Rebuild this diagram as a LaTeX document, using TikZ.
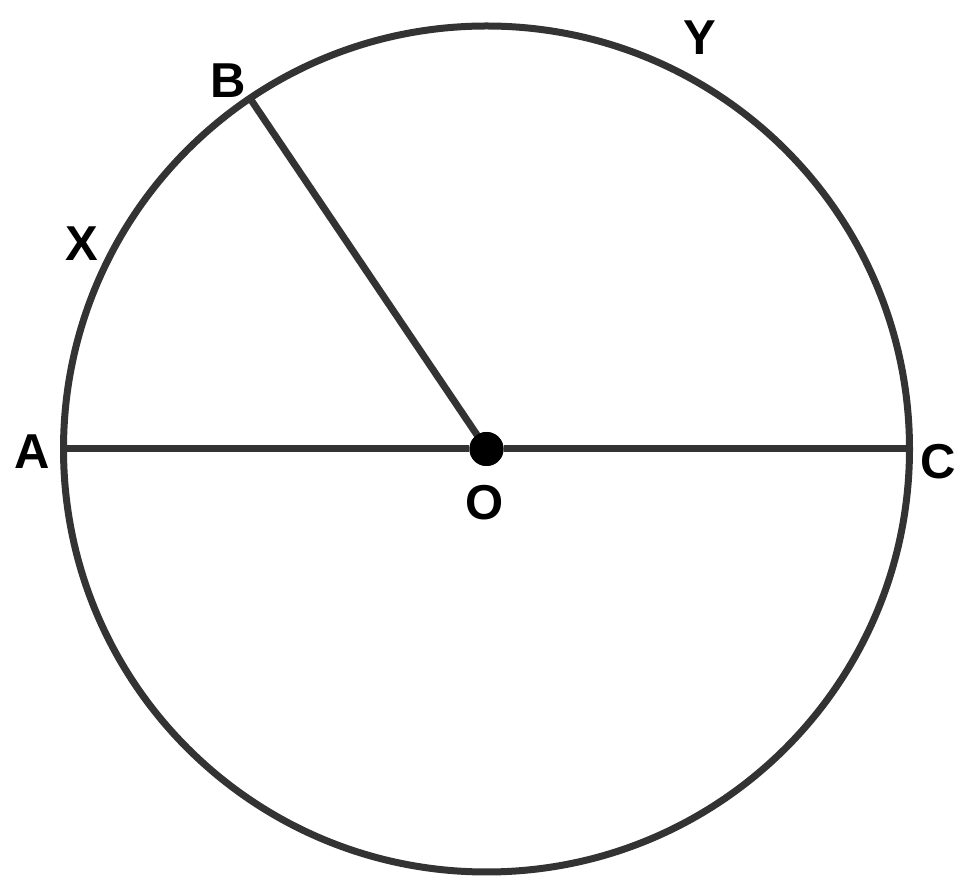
\documentclass[tikz,border=0pt]{standalone}
\usepackage{fontspec}
\setmainfont{Liberation Sans}
\begin{document}
\begin{tikzpicture}[x=1pt,y=1pt,
  geo/.style={draw=linegray,line width=7pt},
  lbl/.style={inner sep=0pt,font=\fontsize{49}{49}\selectfont\bfseries}]
\definecolor{linegray}{HTML}{333333}
\useasboundingbox (0,0) rectangle (966,891);
\node[circle,geo,minimum size=846pt,inner sep=0pt,outer sep=0pt] (circ) at (486.5,442) {};
\coordinate (A) at (circ.west);
\coordinate (C) at (circ.east);
\coordinate (B) at (circ.124.4);
\node[circle,fill=black,minimum size=34pt,inner sep=0pt] (O) at (486.5,442) {};
\draw[geo] (A) -- (O);
\draw[geo] (O) -- (C);
\draw[geo] (O.center) -- (B);
\node[circle,fill=black,minimum size=34pt,inner sep=0pt] at (O) {};
\node[lbl] (lA) at (32,439) {A};
\node[lbl] (lC) at (938,429) {C};
\node[lbl] (lO) at (485,388) {O};
\node[lbl] (lB) at (228,810) {B};
\node[lbl] (lX) at (82,647) {X};
\node[lbl] (lY) at (700,853) {Y};
\end{tikzpicture}
\end{document}
